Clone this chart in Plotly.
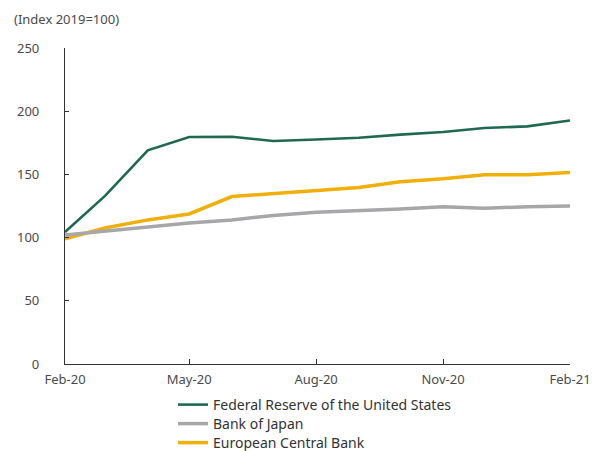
import plotly.graph_objects as go

months = ["2020-02-01", "2020-03-01", "2020-04-01", "2020-05-01", "2020-06-01",
          "2020-07-01", "2020-08-01", "2020-09-01", "2020-10-01", "2020-11-01",
          "2020-12-01", "2021-01-01", "2021-02-01"]

fed = [104.5, 133, 169, 179.6, 179.8, 176.4, 177.6, 179, 181.5, 183.5, 186.7, 188, 192.7]
boj = [102, 105, 108.2, 111.5, 114, 117.5, 120, 121.2, 122.6, 124.4, 123.3, 124.4, 125]
ecb = [99, 107.6, 114, 118.7, 132.5, 135, 137.2, 139.6, 144.2, 146.5, 149.7, 149.7, 151.6]

tick_vals = ["2020-02-01", "2020-05-01", "2020-08-01", "2020-11-01", "2021-02-01"]
tick_text = ["Feb-20", "May-20", "Aug-20", "Nov-20", "Feb-21"]

W, H = 597, 451
FONT = "Noto Sans"
TXT = "#4a4a4a"

fig = go.Figure()
fig.add_trace(go.Scatter(x=months, y=ecb, mode="lines", name="European Central Bank",
                         line=dict(color="#efb00c", width=3.5), legend="legend3"))
fig.add_trace(go.Scatter(x=months, y=fed, mode="lines", name="Federal Reserve of the United States",
                         line=dict(color="#1f6a4f", width=2.6), legend="legend"))
fig.add_trace(go.Scatter(x=months, y=boj, mode="lines", name="Bank of Japan",
                         line=dict(color="#a7a7aa", width=3.5), legend="legend2"))


def legend_row(center_px):
    return dict(orientation="v", xref="container", yref="container",
                x=173 / W, xanchor="left", y=1 - center_px / H, yanchor="middle",
                font=dict(family=FONT, size=14, color="#333333"),
                itemwidth=30, bgcolor="rgba(0,0,0,0)", borderwidth=0)


fig.update_layout(
    width=W, height=H,
    margin=dict(l=65, r=27, t=48, b=87, autoexpand=False),
    paper_bgcolor="white", plot_bgcolor="white",
    font=dict(family=FONT, size=13, color=TXT),
    showlegend=True,
    legend=legend_row(405),
    legend2=legend_row(424),
    legend3=legend_row(443),
    annotations=[dict(text="(Index 2019=100)", xref="paper", yref="paper",
                      x=-0.105, y=1.092, xanchor="left", yanchor="middle",
                      showarrow=False, font=dict(family=FONT, size=13, color=TXT))],
)
fig.update_xaxes(
    type="date", range=["2020-02-01", "2021-02-01"],
    tickvals=tick_vals, ticktext=tick_text, tickangle=0,
    showgrid=False, zeroline=False, automargin=False,
    showline=True, linecolor="#333333", linewidth=1.2,
    ticks="inside", ticklen=5, tickcolor="#333333",
    ticklabelstandoff=3,
)
fig.update_yaxes(
    range=[0, 250], tickvals=[0, 50, 100, 150, 200, 250],
    showgrid=False, zeroline=False, automargin=False,
    showline=True, linecolor="#333333", linewidth=1.2,
    ticks="inside", ticklen=4, tickcolor="#333333",
    ticklabelstandoff=22,
)

fig.write_html("out.html")
